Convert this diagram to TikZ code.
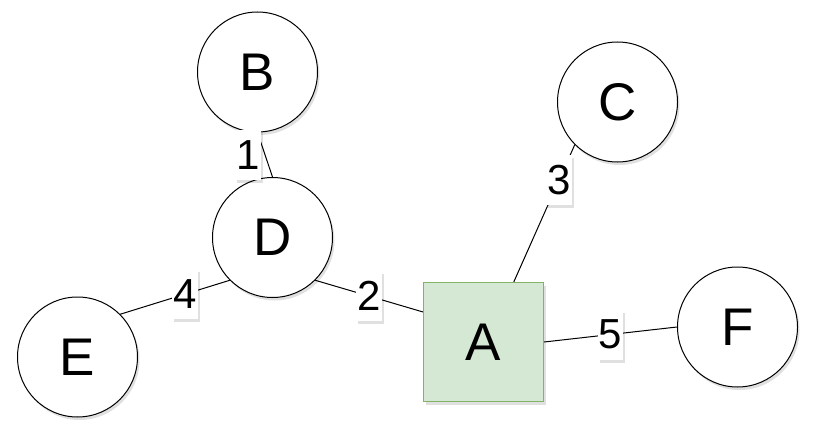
\documentclass[tikz,border=0pt]{standalone}
\usepackage{fontspec}
\setmainfont{Liberation Sans}
\usepackage{tikz}
\usetikzlibrary{positioning,calc,shadows}
\definecolor{hubfill}{HTML}{D5E8D4}
\definecolor{hubdraw}{HTML}{82B366}

\begin{document}
\begin{tikzpicture}[
  x=1pt, y=-1pt,
  softshadow/.style={drop shadow={shadow xshift=2pt, shadow yshift=-3pt, fill=black, opacity=0.12}},
  vertex/.style={draw, circle, fill=white, line width=1pt, minimum size=120pt, inner sep=0pt,
                 font=\fontsize{53}{60}\selectfont, softshadow},
  hub/.style={draw=hubdraw, fill=hubfill, line width=1.2pt, minimum width=120pt, minimum height=119pt,
              inner sep=0pt, font=\fontsize{53}{60}\selectfont, softshadow},
  link/.style={line width=1pt},
  weight/.style={fill=white, inner xsep=1pt, inner ysep=0pt, minimum height=50pt,
                 font=\fontsize{42}{48}\selectfont, softshadow},
]
\useasboundingbox (0,0) rectangle (813,428);

% Vertices
\node[vertex] (B) at (257.5,72) {B};
\node[vertex] (C) at (617.5,102) {C};
\node[vertex] (D) at (272.5,237.5) {D};
\node[vertex] (E) at (77.5,357) {E};
\node[vertex] (F) at (737.5,327) {F};
\node[hub] (A) at (483.5,342) {A};

% Edges with weights
\draw[link] (B.south) -- (D.north) node[weight, midway, xshift=-17pt] {1};
\draw[link] (D.-45) -- ($(A.north west)!0.25!(A.south west)$) node[weight, midway] {2};
\draw[link] ($(A.north west)!0.75!(A.north east)$) -- (C.225) node[weight, pos=0.74] {3};
\draw[link] (D.225) -- (E.45) node[weight, pos=0.41] {4};
\draw[link] (A.east) -- (F.west) node[weight, midway] {5};

\end{tikzpicture}
\end{document}
